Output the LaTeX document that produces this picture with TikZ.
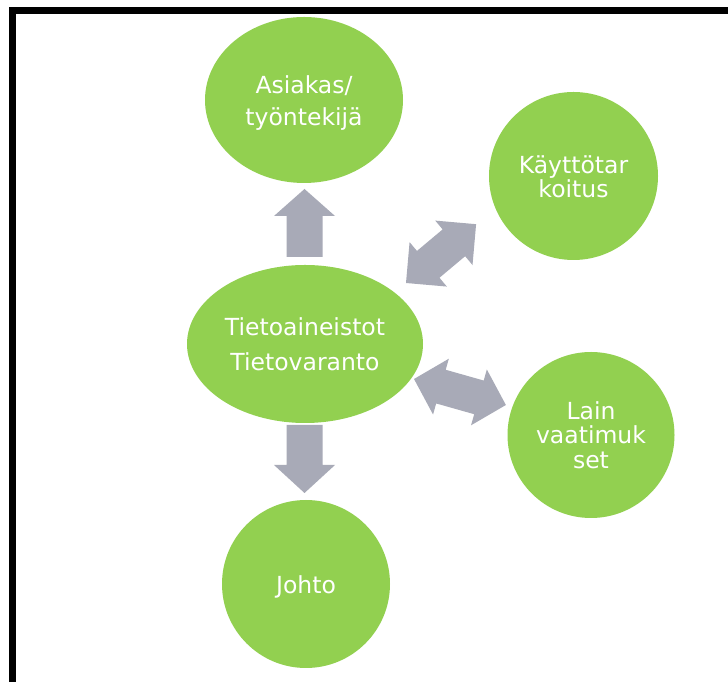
\documentclass[tikz,border=0pt]{standalone}
\usepackage{fontspec}
\setmainfont{DejaVu Sans}
\usetikzlibrary{shapes.geometric}
\definecolor{leafgreen}{RGB}{146,208,80}
\definecolor{arrowgray}{RGB}{168,170,183}
\begin{document}
\begin{tikzpicture}[x=1pt,y=1pt,
  blob/.style={ellipse, fill=leafgreen, draw=none, inner sep=0pt},
  caption/.style={text=white, align=center, inner sep=0pt},
  blockarrow/.style={fill=arrowgray, draw=none}]
\useasboundingbox (0,0) rectangle (728,682);
\clip (0,0) rectangle (728,682);
\fill[white] (0,0) rectangle (728,682);
% outer frame
\draw[line width=7pt] (12.5,671.5) rectangle (742,-3.5);

% circles
\node[blob, minimum width=198pt, minimum height=166pt] (client) at (304,582) {};
\node[blob, minimum width=169pt, minimum height=168pt] (purpose) at (573.5,506) {};
\node[blob, minimum width=236pt, minimum height=158pt] (data) at (305,338) {};
\node[blob, minimum width=167pt, minimum height=166pt] (law) at (591,247) {};
\node[blob, minimum width=168pt, minimum height=168pt] (board) at (306,98) {};

% texts in the circles
\node[caption, font=\fontsize{23.5}{32}\selectfont, yshift=-3pt] (client-text)
  at (client.center) {Asiakas/\\työntekijä};
\node[caption, font=\fontsize{23.5}{24.5}\selectfont, yshift=-1pt] (purpose-text)
  at (purpose.center) {Käyttötar\\koitus};
\node[caption, font=\fontsize{23.5}{35}\selectfont] (data-text)
  at (data.center) {Tietoaineistot\\Tietovaranto};
\node[caption, font=\fontsize{23.5}{24.5}\selectfont] (law-text)
  at (law.center) {Lain\\vaatimuk\\set};
\node[caption, font=\fontsize{23.5}{27}\selectfont, yshift=-3pt] (board-text)
  at (board.center) {Johto};

% block arrows
\begin{scope}[shift={(304.5,425)}, rotate=90]
  \fill[blockarrow] (0,-18) -- (41,-18) -- (41,-30.5) -- (68,0) -- (41,30.5) -- (41,18) -- (0,18) -- cycle;
\end{scope}
\begin{scope}[shift={(304.5,257)}, rotate=-90]
  \fill[blockarrow] (0,-18) -- (40,-18) -- (40,-30.5) -- (68,0) -- (40,30.5) -- (40,18) -- (0,18) -- cycle;
\end{scope}
\begin{scope}[shift={(406,399)}, rotate=40]
  \fill[blockarrow] (0,0) -- (29,29) -- (29,17.5) -- (62.5,17.5) -- (62.5,29) -- (91.5,0)
    -- (62.5,-29) -- (62.5,-17.5) -- (29,-17.5) -- (29,-29) -- cycle;
\end{scope}
\begin{scope}[shift={(414,303)}, rotate=-15.8]
  \fill[blockarrow] (0,0) -- (28,29) -- (28,17.5) -- (67.5,17.5) -- (67.5,29) -- (95.5,0)
    -- (67.5,-29) -- (67.5,-17.5) -- (28,-17.5) -- (28,-29) -- cycle;
\end{scope}
\end{tikzpicture}
\end{document}
